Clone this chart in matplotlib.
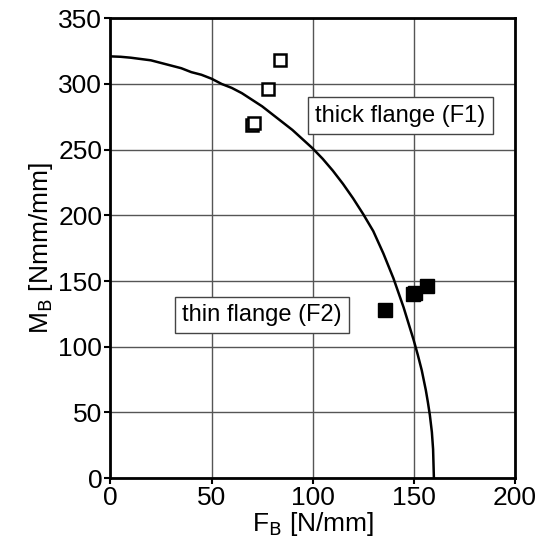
import matplotlib
matplotlib.use("Agg")
import matplotlib.pyplot as plt

plt.rcParams['font.family'] = ['Liberation Sans', 'DejaVu Sans']
plt.rcParams['mathtext.fontset'] = 'custom'
plt.rcParams['mathtext.rm'] = 'Liberation Sans'
plt.rcParams['mathtext.default'] = 'regular'

# interaction curve
curve_f = [0, 5, 10, 15, 20, 25, 30, 35, 40, 45, 50, 55, 60, 65, 70, 75, 80, 85, 90,
           95, 100, 105, 110, 115, 120, 125, 130, 135, 140, 145, 150, 152, 154, 156,
           157, 158, 159, 159.6, 160]
curve_m = [321, 320.7, 320, 319, 318, 316, 314, 312, 309, 307, 304, 300, 297, 293, 288,
           283, 277, 271, 265, 258, 251, 243, 234, 224, 213, 201, 188, 171, 152, 130,
           105, 94, 82, 67, 58, 48, 35, 22, 0]

# test results
thick_f = [70, 71, 78, 84]
thick_m = [269, 270, 296, 318]
thin_f = [136, 149.5, 150.5, 156.5]
thin_m = [128, 140, 141, 146]

x_ticks = [0, 50, 100, 150, 200]
y_ticks = [0, 50, 100, 150, 200, 250, 300, 350]

fig = plt.figure(figsize=(5.39, 5.54), dpi=100)
ax = fig.add_axes([0.205, 0.137, 0.75, 0.830])

ax.grid(True, color='#555555', linewidth=1.0)
ax.set_axisbelow(True)

ax.plot(curve_f, curve_m, color='black', linewidth=1.8, zorder=3)
ax.plot(thick_f, thick_m, 's', markersize=8.5, markerfacecolor='white',
        markeredgecolor='black', markeredgewidth=1.8, zorder=4)
ax.plot(thin_f, thin_m, 's', markersize=9.5, color='black', zorder=4)

box = dict(boxstyle='square,pad=0.3', facecolor='white', edgecolor='#444444', linewidth=1)
ax.text(143.4, 276, 'thick flange (F1)', fontsize=17, ha='center', va='center', bbox=box, zorder=5)
ax.text(75, 124, 'thin flange (F2)', fontsize=17, ha='center', va='center', bbox=box, zorder=5)

ax.set_xlim(0, 200)
ax.set_ylim(0, 350)
ax.set_xticks(x_ticks)
ax.set_yticks(y_ticks)
ax.tick_params(labelsize=19, direction='out', length=4, width=1.5, pad=2)
for s in ax.spines.values():
    s.set_linewidth(2)

ax.set_xlabel(r'F$_{\mathsf{B}}$ [N/mm]', fontsize=19, labelpad=0)
ax.set_ylabel(r'M$_{\mathsf{B}}$ [Nmm/mm]', fontsize=19, labelpad=2)

fig.savefig('out.png', dpi=100)
